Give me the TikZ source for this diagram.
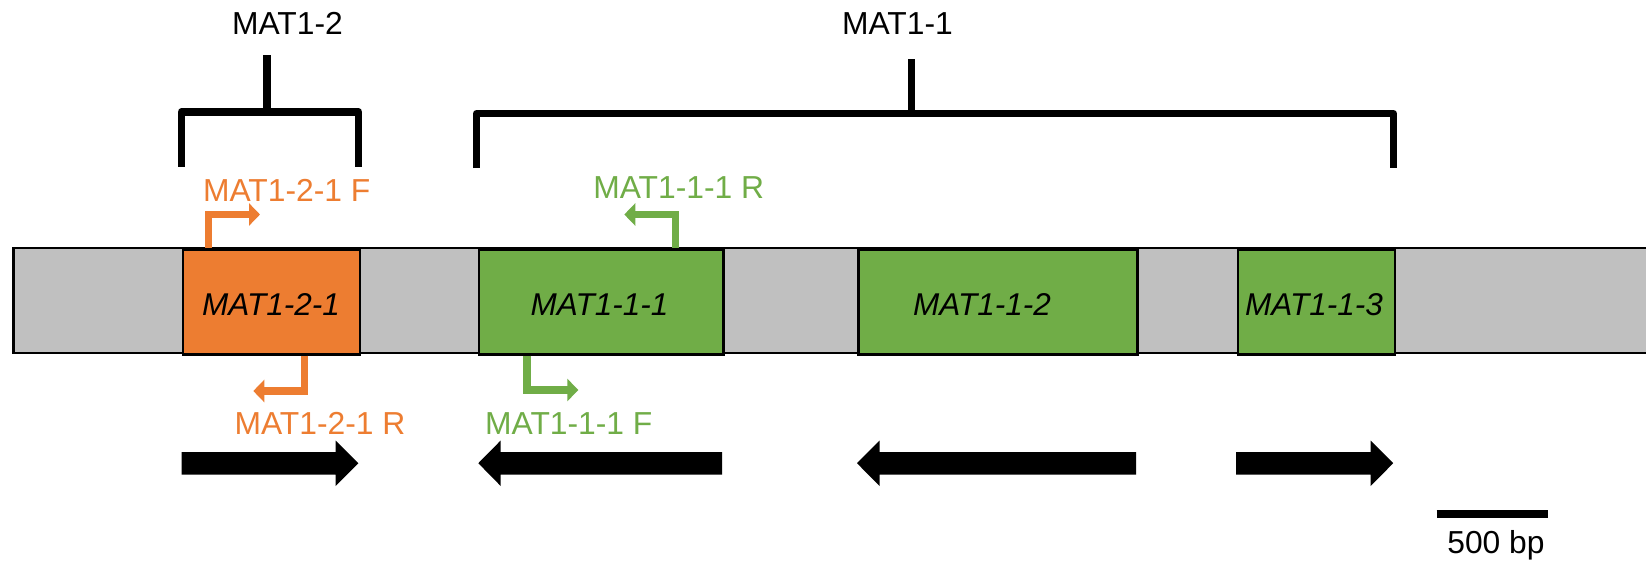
\documentclass[tikz,border=0pt]{standalone}
\usepackage{fontspec}
\setmainfont{Liberation Sans}
\usetikzlibrary{arrows.meta}
\definecolor{mforange}{HTML}{ED7D31}
\definecolor{mfgreen}{HTML}{70AD47}
\definecolor{mfgray}{HTML}{C0C0C0}
\begin{document}
\begin{tikzpicture}[x=1pt,y=-1pt,
  lbl/.style={font=\fontsize{31.8pt}{38pt}\selectfont, inner sep=0pt, anchor=base},
  genelbl/.style={lbl, font=\fontsize{31.5pt}{38pt}\selectfont\itshape},
  genebox/.style={draw=black, line width=2.5pt, rectangle, inner sep=0pt,
    minimum height=105pt, anchor=north west},
  bracket/.style={line width=7.5pt, line join=round},
  primer/.style={line width=7.5pt, line join=miter,
    -{Triangle[length=11pt,width=22pt]}},
  blockarrow/.style={fill=black}
]
\useasboundingbox (0,0) rectangle (1646,567);
\fill[white] (0,0) rectangle (1646,567);

% locus bar
\fill[mfgray] (13.5,248) rectangle (1646,353);
\draw[line width=2.5pt] (1646,248) -- (13.5,248) -- (13.5,353) -- (1646,353);

% genes
\node[genebox, fill=mforange, minimum width=177pt]   (g21) at (181.5,248) {};
\node[genebox, fill=mfgreen,  minimum width=244.5pt] (g11) at (477.5,248) {};
\node[genebox, fill=mfgreen,  minimum width=279pt]   (g12) at (857,248) {};
\node[genebox, fill=mfgreen,  minimum width=157pt]   (g13) at (1236.5,248) {};

\node[genelbl] (t21) at (271,315)    {MAT1-2-1};
\node[genelbl] (t11) at (599.5,315)  {MAT1-1-1};
\node[genelbl] (t12) at (982,315)    {MAT1-1-2};
\node[genelbl] (t13) at (1314,315)   {MAT1-1-3};

% idiomorph brackets
\draw[bracket] (181.5,166.7) -- (181.5,112) -- (358.5,112) -- (358.5,166.7);
\draw[bracket] (267,112) -- (267,55);
\draw[bracket] (476.7,168) -- (476.7,113.7) -- (1393.3,113.7) -- (1393.3,168);
\draw[bracket] (911.7,113.7) -- (911.7,59.3);
\node[lbl] (mat12) at (287.5,35) {MAT1-2};
\node[lbl] (mat11) at (897.5,35) {MAT1-1};

% primers
\coordinate (p21F) at (260,214.5);
\coordinate (p11R) at (624.3,214.5);
\coordinate (p21R) at (253.3,391);
\coordinate (p11F) at (578.3,390);
\draw[primer, mforange] (g21.north west) ++(26.8,0) |- (p21F);
\draw[primer, mfgreen]  (g11.north west) ++(198.2,0) |- (p11R);
\draw[primer, mforange] (g21.south west) ++(123.2,0) |- (p21R);
\draw[primer, mfgreen]  (g11.south west) ++(49.7,0) |- (p11F);
\node[lbl, text=mforange] (l21F) at (286.7,201.7) {MAT1-2-1 F};
\node[lbl, text=mfgreen]  (l11R) at (678.7,198.3) {MAT1-1-1 R};
\node[lbl, text=mforange] (l21R) at (320,434.3)   {MAT1-2-1 R};
\node[lbl, text=mfgreen]  (l11F) at (568.8,434.3) {MAT1-1-1 F};

% orientation of the ORFs
\fill[blockarrow] (181.7,452) -- (335.7,452) -- (335.7,440.5) -- (358.3,463.2)
  -- (335.7,486) -- (335.7,474.5) -- (181.7,474.5) -- cycle;
\fill[blockarrow] (722,452) -- (500.7,452) -- (500.7,440.5) -- (478.3,463.2)
  -- (500.7,486) -- (500.7,474.5) -- (722,474.5) -- cycle;
\fill[blockarrow] (1136,452) -- (879.5,452) -- (879.5,440.5) -- (857,463.2)
  -- (879.5,486) -- (879.5,474.5) -- (1136,474.5) -- cycle;
\fill[blockarrow] (1236.2,452) -- (1370.7,452) -- (1370.7,440.5) -- (1393.2,463.2)
  -- (1370.7,486) -- (1370.7,474.5) -- (1236.2,474.5) -- cycle;

% scale bar
\draw[line width=8pt] (1436.7,514) -- (1548.3,514);
\node[lbl] (scale) at (1496,553.3) {500 bp};
\end{tikzpicture}
\end{document}
